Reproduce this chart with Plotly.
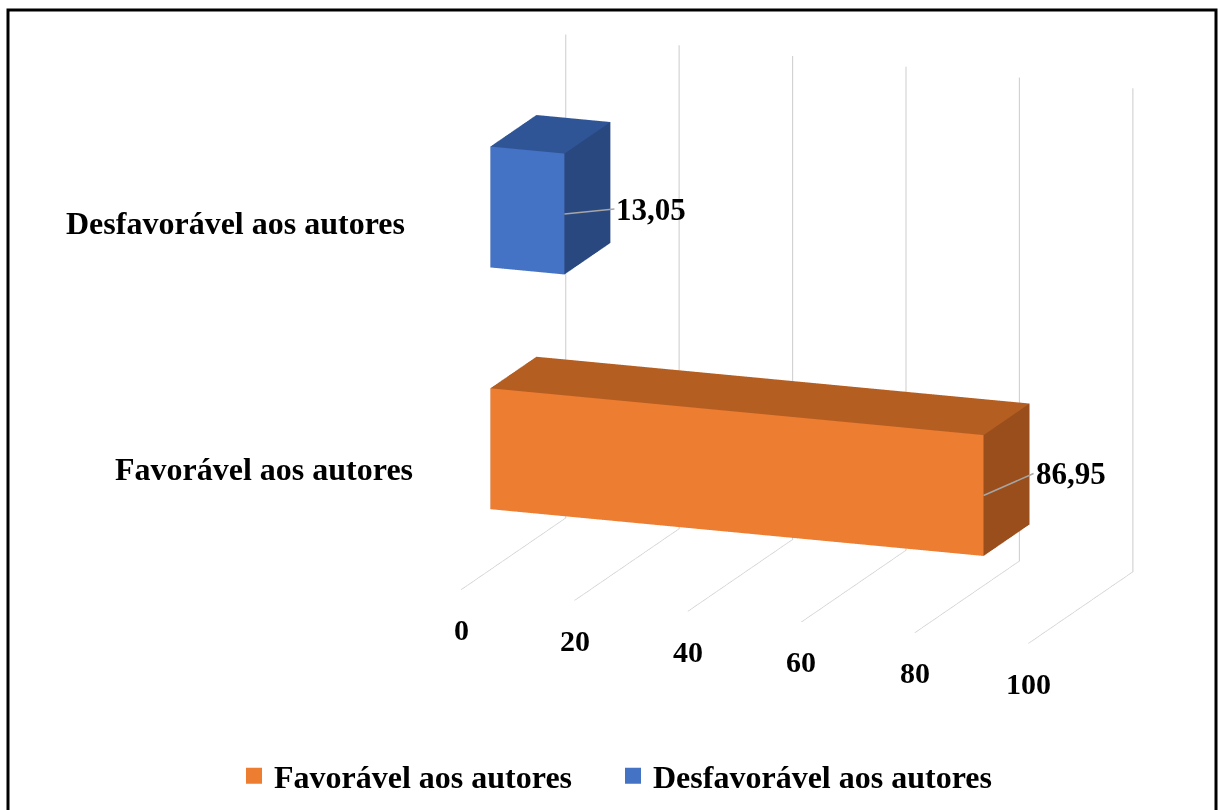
import plotly.graph_objects as go

# ---------------- data ----------------
categories = ["Favorável aos autores", "Desfavorável aos autores"]
values = [86.95, 13.05]
category_pos = [0.5, 1.5]          # category slots on the vertical (category) axis
tick_values = [0, 20, 40, 60, 80, 100]
tick_labels = ["0", "20", "40", "60", "80", "100"]

front_colors = ["#ED7D31", "#4472C4"]
top_colors = ["#B55E22", "#2F5597"]
side_colors = ["#9A4E1C", "#2A4880"]

FONT = "Liberation Serif, Times New Roman, serif"
BAR_HALF = 0.25
DEPTH = (0.28, 0.72)
LABEL_SHIFT = [(-46, 0), (-54, 4)]      # pixel offsets of the category labels
LEADER = [(50, -22), (50, -5)]          # pixel offsets of the data labels


def box_mesh(x0, x1, y0, y1, z0, z1, c_front, c_top, c_side, name):
    xs = [x0, x1, x1, x0, x0, x1, x1, x0]
    ys = [y0, y0, y1, y1, y0, y0, y1, y1]
    zs = [z0, z0, z0, z0, z1, z1, z1, z1]
    tris = [
        ((0, 1, 5), c_front), ((0, 5, 4), c_front),   # front
        ((3, 2, 6), c_side), ((3, 6, 7), c_side),     # back
        ((0, 1, 2), c_top), ((0, 2, 3), c_top),       # bottom
        ((4, 5, 6), c_top), ((4, 6, 7), c_top),       # top
        ((0, 3, 7), c_side), ((0, 7, 4), c_side),     # left
        ((1, 2, 6), c_side), ((1, 6, 5), c_side),     # right
    ]
    return go.Mesh3d(
        x=xs, y=ys, z=zs,
        i=[t[0][0] for t in tris], j=[t[0][1] for t in tris], k=[t[0][2] for t in tris],
        facecolor=[t[1] for t in tris],
        flatshading=True,
        lighting=dict(ambient=1.0, diffuse=0.0, specular=0.0, roughness=1.0, fresnel=0.0),
        hoverinfo="skip", showlegend=False, name=name,
    )


fig = go.Figure()

for cat, v, zc, cf, ct, cs in zip(categories, values, category_pos,
                                   front_colors, top_colors, side_colors):
    fig.add_trace(box_mesh(0, v, DEPTH[0], DEPTH[1], zc - BAR_HALF, zc + BAR_HALF,
                           cf, ct, cs, cat))

# legend entries
for cat, cf in zip(categories, front_colors):
    fig.add_trace(go.Scatter3d(
        x=[None], y=[None], z=[None], mode="markers",
        marker=dict(symbol="square", size=17, color=cf),
        name=cat, showlegend=True, hoverinfo="skip"))

annotations = []
# category labels
for cat, zc, (dx, dy) in zip(categories, category_pos, LABEL_SHIFT):
    annotations.append(dict(
        x=0, y=0, z=zc, text="<b>" + cat + "</b>", showarrow=False,
        xanchor="right", yanchor="middle", xshift=dx, yshift=dy,
        font=dict(family=FONT, size=32, color="#000000")))
# value-axis tick labels
for tv, tl in zip(tick_values, tick_labels):
    annotations.append(dict(
        x=tv, y=0, z=0, text="<b>" + tl + "</b>", showarrow=False,
        xanchor="center", yanchor="middle", yshift=-40,
        font=dict(family=FONT, size=30, color="#000000")))
# data labels with leader lines
for v, zc, (ax, ay) in zip(values, category_pos, LEADER):
    annotations.append(dict(
        x=v, y=DEPTH[0], z=zc, text="<b>" + f"{v:.2f}".replace(".", ",") + "</b>",
        showarrow=True, arrowhead=0, arrowwidth=1.5, arrowcolor="#A6A6A6",
        ax=ax, ay=ay, standoff=0, xanchor="left", yanchor="middle",
        font=dict(family=FONT, size=31, color="#000000")))

hidden = dict(showgrid=False, zeroline=False, showline=False, showticklabels=False,
              ticks="", showbackground=False, showspikes=False, title=dict(text=""))

fig.update_layout(
    width=1218, height=810,
    margin=dict(l=0, r=0, t=0, b=0),
    paper_bgcolor="#FFFFFF",
    font=dict(family=FONT, color="#000000"),
    scene=dict(
        domain=dict(x=[380 / 1218, 1214 / 1218], y=[1 - 678 / 810, 1.0]),
        xaxis=dict(hidden, range=[0, 100], tickvals=tick_values, showgrid=True,
                   gridcolor="#CCCCCC", gridwidth=2),
        yaxis=dict(hidden, range=[0, 1]),
        zaxis=dict(hidden, range=[0, 2]),
        aspectmode="manual",
        aspectratio=dict(x=1.785, y=0.885, z=1.475),
        camera=dict(eye=dict(x=1.011, y=-2.718, z=0.765),
                    center=dict(x=0, y=0, z=0),
                    up=dict(x=0, y=0, z=1),
                    projection=dict(type="orthographic")),
        annotations=annotations,
        dragmode=False,
    ),
    legend=dict(orientation="h", x=234 / 1218, y=34 / 810, xanchor="left", yanchor="middle",
                font=dict(family=FONT, size=32, color="#000000", weight="bold"),
                itemsizing="trace", entrywidth=334, entrywidthmode="pixels",
                bgcolor="rgba(0,0,0,0)"),
    hovermode=False,
    shapes=[dict(type="rect", xref="paper", yref="paper",
                 x0=8 / 1218, x1=1216 / 1218, y0=-0.02, y1=1 - 10 / 810,
                 line=dict(color="#000000", width=3), fillcolor="rgba(0,0,0,0)")],
)

fig.write_html("out.html")
